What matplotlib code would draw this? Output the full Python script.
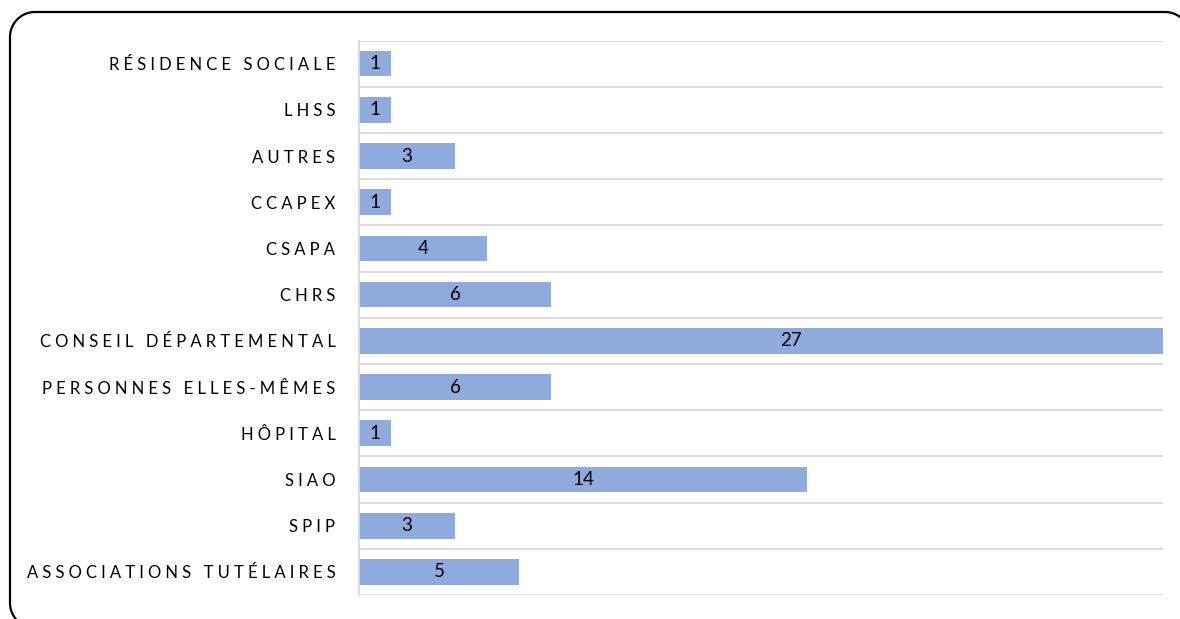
import matplotlib
matplotlib.use("Agg")
import numpy as np
import matplotlib.pyplot as plt
from matplotlib.patches import PathPatch
from matplotlib.path import Path
from matplotlib.transforms import IdentityTransform

categories = ["RÉSIDENCE SOCIALE", "LHSS", "AUTRES", "CCAPEX", "CSAPA", "CHRS",
              "CONSEIL DÉPARTEMENTAL", "PERSONNES ELLES-MÊMES", "HÔPITAL", "SIAO",
              "SPIP", "ASSOCIATIONS TUTÉLAIRES"]
values = [1, 1, 3, 1, 4, 6, 27, 6, 1, 14, 3, 5]
x_max = 25.1

FAM = ["Lato", "DejaVu Sans"]
BAR = "#8faadc"
GRID = "#d9d9d9"
W, H = 1180, 619

def spaced(s):
    words = ["\u2005".join(w) for w in s.split(" ")]
    return "\u2005 \u2005".join(words)

fig = plt.figure(figsize=(11.8, 6.19), dpi=100)
ax = fig.add_axes([359/W, 1-595/H, (1163-359)/W, (595-40.5)/H])

y = list(range(len(categories)))
ax.barh(y, values, height=0.556, color=BAR, zorder=2)
for yi, v in zip(y, values):
    ax.text(v/2, yi, str(v), ha="center", va="center", fontsize=13.5,
            family=FAM, color="black", zorder=3, clip_on=False)

ax.set_xlim(0, x_max)
ax.set_ylim(len(categories)-0.5, -0.5)
ax.set_yticks(y)
ax.set_yticklabels([spaced(c) for c in categories], family=FAM, fontsize=12)
ax.tick_params(axis="y", length=0, pad=17)
ax.set_xticks([])
for b in range(len(categories)+1):
    ax.axhline(b-0.5, color=GRID, lw=1.3, zorder=1)
for s in ["top", "right", "bottom"]:
    ax.spines[s].set_visible(False)
ax.spines["left"].set_color(GRID)
ax.spines["left"].set_linewidth(1.3)

# rounded border in pixel coords (top-down y converted)
L, R, T, B, r = 10, 1190, 12, 628, 25
def arc(cx, cy, a0, a1):
    t = np.linspace(np.radians(a0), np.radians(a1), 20)
    return list(zip(cx + r*np.cos(t), cy + r*np.sin(t)))
pts = []
pts += arc(L+r, T+r, 180, 270)
pts += arc(R-r, T+r, 270, 360)
pts += arc(R-r, B-r, 0, 90)
pts += arc(L+r, B-r, 90, 180)
pts.append(pts[0])
pts = [(px, H-py) for px, py in pts]
border = PathPatch(Path(pts), transform=IdentityTransform(), fill=False,
                   edgecolor="black", linewidth=1.6, clip_on=False)
fig.add_artist(border)

fig.savefig("out.png", dpi=100)
